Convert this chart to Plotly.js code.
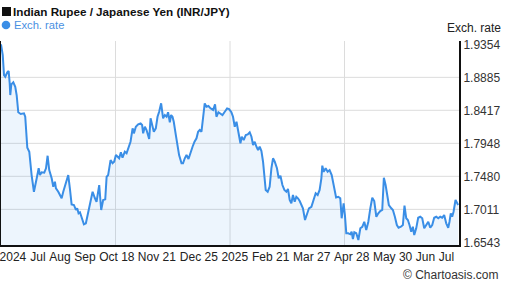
<!DOCTYPE html>
<html>
<head>
<meta charset="utf-8">
<script src="https://cdn.plot.ly/plotly-3.0.1.min.js"></script>
<style>
html,body{margin:0;padding:0;background:#fff;}
#chart{width:507px;height:288px;}
</style>
</head>
<body>
<div id="chart"></div>
<script>
// ---- data ----
const startDate = '2024-06-15';
const dayOffsets = [
0,1.5,2.6,3.7,5.4,6.6,7.5,8.0,8.9,10.6,12.3,13.5,14.9,17.0,19.8,20.9,22.7,24.4,26.4,28.4,
30.8,32.5,33.6,35.1,37.3,38.8,40.2,41.6,43.7,45.1,46.5,47.4,49.4,50.8,52.3,53.7,56.0,58.0,59.4,60.9,
62.9,64.6,65.7,66.9,68.1,69.5,71.5,73.2,75.2,77.3,79.0,81.0,82.4,84.7,86.4,88.1,89.9,91.1,92.4,94.5,
96.2,97.6,99.1,101.9,103.4,104.8,106.8,108.3,109.7,111.7,113.5,114.6,116.3,118.3,120.4,121.7,122.6,124.1,125.5,126.6,
127.8,129.0,130.3,131.8,133.5,135.0,136.4,138.1,139.8,141.3,142.8,144.1,145.6,146.7,147.9,149.0,150.8,152.2,153.6,155.7,
157.0,158.5,160.0,161.7,163.4,165.2,166.9,168.6,170.0,171.4,172.9,174.3,175.7,177.2,178.9,180.7,182.9,184.6,185.8,187.5,
189.3,191.0,193.0,195.0,196.7,198.7,200.1,201.6,203.1,204.2,205.3,206.5,207.6,209.3,211.1,212.8,214.5,216.0,217.4,218.8,
220.3,221.7,223.1,224.6,226.0,227.2,228.3,230.0,231.7,233.2,234.6,236.1,238.0,239.5,241.0,242.7,244.4,246.1,247.5,249.0,
250.4,251.8,253.3,254.7,256.1,257.6,259.0,260.4,262.2,263.9,265.6,267.7,269.6,271.4,273.1,274.8,276.3,277.1,278.3,280.0,
281.7,283.4,285.2,286.9,289.0,290.9,292.6,293.8,295.5,296.6,297.8,299.5,301.3,302.4,303.5,304.7,306.4,308.2,309.9,311.6,
313.3,315.0,316.8,318.5,320.2,321.9,323.7,325.4,327.1,328.8,330.2,331.7,333.1,334.5,336.6,338.0,339.7,341.4,342.9,344.9,
346.6,348.0,349.5,350.9,352.3,353.8,355.2,356.4,358.1,359.8,361.6,363.3,365.0,366.7,368.5,370.2,371.9,373.6,375.4,377.1,
378.8,380.5,382.2,384.0,385.7,386.8,387.9,389.1,390.3,392.0,393.1,394.3
];
const rates = [
1.9354,1.9202,1.8918,1.8894,1.8956,1.8975,1.8800,1.8634,1.8786,1.8815,1.8752,1.8634,1.8389,1.8364,1.8374,1.8326,1.7886,1.7829,1.7498,1.7261,
1.7452,1.7594,1.7498,1.7537,1.7531,1.7594,1.7772,1.7569,1.7452,1.7332,1.7403,1.7310,1.7261,1.7215,1.7168,1.7261,1.7403,1.7498,1.7310,1.7082,
1.7073,1.7002,1.7026,1.6955,1.6969,1.6906,1.6799,1.6813,1.6977,1.7119,1.7261,1.7168,1.7119,1.7356,1.7002,1.7144,1.7153,1.7474,1.7498,1.7711,
1.7665,1.7687,1.7782,1.7736,1.7821,1.7744,1.7829,1.7807,1.7878,1.7971,1.8161,1.8090,1.8184,1.8218,1.8232,1.8208,1.8090,1.8184,1.8137,1.8090,
1.8010,1.8303,1.8208,1.8113,1.8161,1.8326,1.8397,1.8516,1.8303,1.8350,1.8326,1.8389,1.8247,1.8350,1.8326,1.8255,1.8066,1.7924,1.7782,1.7665,
1.7665,1.7736,1.7782,1.7726,1.7829,1.7900,1.7971,1.8019,1.8113,1.8137,1.8113,1.8279,1.8516,1.8468,1.8478,1.8445,1.8421,1.8502,1.8326,1.8389,
1.8374,1.8350,1.8397,1.8445,1.8435,1.8389,1.8326,1.8184,1.8255,1.8137,1.8042,1.7949,1.8042,1.7995,1.8066,1.8076,1.8105,1.8042,1.7924,1.7971,
1.7900,1.7853,1.7900,1.7839,1.7687,1.7498,1.7286,1.7261,1.7332,1.7594,1.7736,1.7687,1.7594,1.7452,1.7489,1.7356,1.7286,1.7261,1.7300,1.7144,
1.7097,1.7215,1.7119,1.7190,1.7168,1.7129,1.7073,1.7026,1.6860,1.6955,1.7026,1.7048,1.7144,1.7239,1.7215,1.7286,1.7452,1.7631,1.7545,1.7594,
1.7545,1.7569,1.7498,1.7356,1.7179,1.7190,1.7168,1.6884,1.7097,1.6931,1.6671,1.6671,1.6657,1.6693,1.6590,1.6685,1.6671,1.6576,1.6742,1.6764,
1.6835,1.6718,1.6835,1.7026,1.7176,1.7129,1.6906,1.6955,1.6987,1.7002,1.7460,1.7356,1.7215,1.7073,1.7026,1.7002,1.6906,1.6789,1.6750,1.6764,
1.6789,1.7063,1.6884,1.6860,1.6789,1.6693,1.6764,1.6647,1.6742,1.6892,1.6906,1.6884,1.6742,1.6789,1.6835,1.6750,1.6789,1.6892,1.6906,1.6884,
1.6906,1.6892,1.6931,1.6813,1.6750,1.6835,1.6955,1.6906,1.6977,1.7144,1.7097,1.7073
];
const rangeDays = [0, 395];
const tickDays = [10.3, 31.9, 50.8, 72.4, 99.9, 134.4, 170.6, 201.6, 232.6, 267.9, 302.4, 337.7, 366.1, 384.2];
const tickLabels = ['2024','Jul','Aug','Sep','Oct 18','Nov 21','Dec 25','2025','Feb 21','Mar 27','Apr 28','May 30','Jun','Jul'];
const yTicks = [1.6543, 1.7011, 1.7480, 1.7948, 1.8417, 1.8885, 1.9354];
const titleText = 'Indian Rupee / Japanese Yen (INR/JPY)';
const seriesName = 'Exch. rate';
const axisTitle = 'Exch. rate';
const credit = '© Chartoasis.com';

// ---- helpers ----
const t0 = Date.parse(startDate + 'T00:00:00Z');
function toDate(d) {
  return new Date(t0 + d * 86400000).toISOString().slice(0, 19).replace('T', ' ');
}

const LINE = '#3a8ee6';
const GRID = '#dcdcdc';
const FONT = '"Liberation Sans", Arial, sans-serif';

// plot area: left 1px, width 458, top 41, height 204
const PL = 1, PW = 458, PT = 41, PH = 204;
const px = x => (x - PL) / PW;
const py = y => (PT + PH - y) / PH;

const trace = {
  type: 'scatter',
  mode: 'lines',
  name: seriesName,
  x: dayOffsets.map(toDate),
  y: rates,
  line: {color: LINE, width: 2},
  fill: 'tozeroy',
  fillcolor: 'rgba(58,142,230,0.09)',
  hoverinfo: 'x+y'
};

const shapes = [];
// vertical grid lines at the quarters of the plot
[0.25, 0.5, 0.75].forEach(f => shapes.push({
  type: 'line', xref: 'paper', yref: 'paper', x0: f, x1: f, y0: 0, y1: 1,
  line: {color: GRID, width: 1}, layer: 'below'
}));
// horizontal grid lines at the inner y ticks
yTicks.slice(1, -1).forEach(v => shapes.push({
  type: 'line', xref: 'paper', yref: 'y', x0: 0, x1: 1, y0: v, y1: v,
  line: {color: GRID, width: 1}, layer: 'below'
}));
// title square and legend dot
shapes.push({type: 'rect', xref: 'paper', yref: 'paper', x0: px(2), x1: px(11), y0: py(16), y1: py(7), fillcolor: '#111', line: {width: 0}});
shapes.push({type: 'circle', xref: 'paper', yref: 'paper', x0: px(1.7), x1: px(10.3), y0: py(29.3), y1: py(20.7), fillcolor: LINE, line: {width: 0}});

const layout = {
  width: 507, height: 288,
  margin: {l: PL, r: 507 - PL - PW, t: PT, b: 288 - PT - PH, pad: 0},
  paper_bgcolor: '#fff', plot_bgcolor: '#fff',
  showlegend: false,
  font: {family: FONT, size: 12, color: '#222'},
  title: {
    text: '<b>' + titleText + '</b>',
    x: 13 / 507, xanchor: 'left', xref: 'container',
    y: 1 - 11.5 / 288, yanchor: 'middle', yref: 'container',
    font: {family: FONT, size: 11.7, color: '#111'}
  },
  xaxis: {
    type: 'date',
    range: rangeDays.map(toDate),
    tickmode: 'array',
    tickvals: tickDays.map(toDate),
    ticktext: tickLabels,
    tickangle: 0,
    ticklabeloverflow: 'allow',
    showgrid: false,
    showline: true, linecolor: '#111', linewidth: 2,
    ticks: '', zeroline: false, fixedrange: true,
    tickfont: {family: FONT, size: 12, color: '#222'}
  },
  yaxis: {
    side: 'right',
    range: [1.6505, 1.9401],
    tickmode: 'array',
    tickvals: yTicks,
    ticktext: yTicks.map(v => v.toFixed(4)),
    showgrid: false,
    showline: true, mirror: true, linecolor: '#111', linewidth: 2,
    ticks: '', ticklabeloverflow: 'allow',
    zeroline: false, fixedrange: true,
    tickfont: {family: FONT, size: 12, color: '#333'}
  },
  shapes: shapes,
  annotations: [
    {text: seriesName, xref: 'paper', yref: 'paper', x: px(11.5), y: py(25), xanchor: 'left', yanchor: 'middle', showarrow: false, font: {family: FONT, size: 11.2, color: '#4a90e2'}},
    {text: axisTitle, xref: 'paper', yref: 'paper', x: px(503), y: py(28), xanchor: 'right', yanchor: 'middle', showarrow: false, font: {family: FONT, size: 12, color: '#222'}},
    {text: credit, xref: 'paper', yref: 'paper', x: px(501), y: py(275), xanchor: 'right', yanchor: 'middle', showarrow: false, font: {family: FONT, size: 12, color: '#333'}}
  ]
};

Plotly.newPlot('chart', [trace], layout, {staticPlot: true, displayModeBar: false});
</script>
</body>
</html>
